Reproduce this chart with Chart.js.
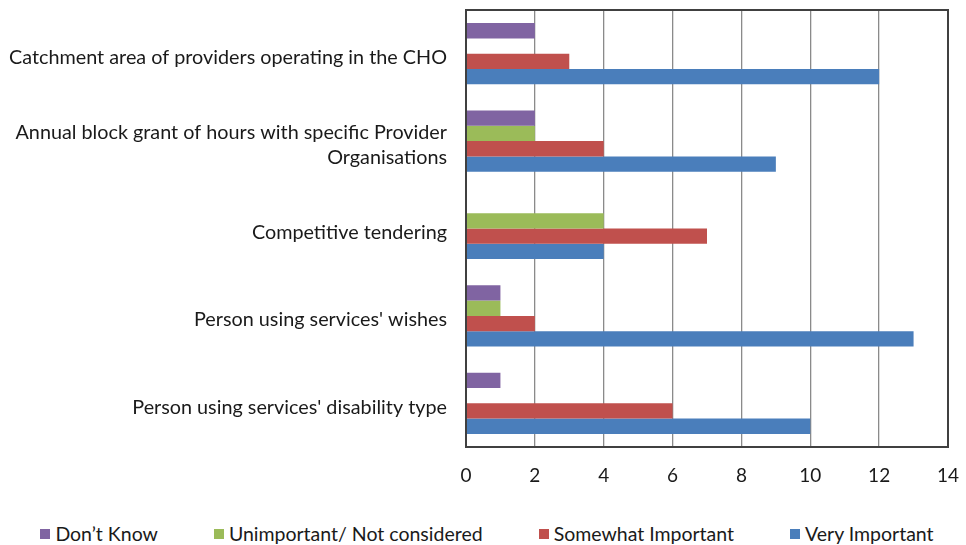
<!DOCTYPE html>
<html>
<head>
<meta charset="utf-8">
<script src="https://cdn.jsdelivr.net/npm/chart.js@4.4.0/dist/chart.umd.min.js"></script>
<style>
  body { margin: 0; background: #fff; }
  #wrap { position: relative; width: 966px; height: 545px; }
  #legend {
    position: absolute; left: 4px; top: 522px; width: 966px;
    display: flex; justify-content: center; gap: 56px;
    font-family: Lato, sans-serif; font-size: 19.5px; color: #1a1a1a;
  }
  #legend span.item { display: flex; align-items: center; }
  #legend span.box { display: inline-block; width: 10px; height: 10px; margin-right: 5px; }
</style>
</head>
<body>
<div id="wrap">
  <canvas id="grafico" width="966" height="510"></canvas>
  <div id="legend"></div>
</div>
<script>
// Categorias (de arriba a abajo)
const categorias = [
    'Catchment area of providers operating in the CHO',
    ['Annual block grant of hours with specific Provider', 'Organisations'],
    'Competitive tendering',
    "Person using services' wishes",
    "Person using services' disability type"
];
const noSabe = [2, 2, 0, 1, 1];
const sinImportancia = [0, 2, 4, 1, 0];
const algoImportante = [3, 4, 7, 2, 6];
const muyImportante = [12, 9, 4, 13, 10];
const ticksX = [0, 2, 4, 6, 8, 10, 12, 14];

const fuente = 'Lato, sans-serif';

// Borde del area del grafico
const bordePlot = {
    id: 'bordePlot',
    afterDraw(chart) {
        const a = chart.chartArea;
        const ctx = chart.ctx;
        ctx.save();
        ctx.strokeStyle = '#404040';
        ctx.lineWidth = 2;
        ctx.strokeRect(a.left, a.top, a.right - a.left, a.bottom - a.top);
        ctx.restore();
    }
};

const ctx = document.getElementById('grafico').getContext('2d');
const grafico = new Chart(ctx, {
    type: 'bar',
    data: {
        labels: categorias,
        datasets: [
            { label: 'Don\u2019t Know', data: noSabe, backgroundColor: '#8064A2' },
            { label: 'Unimportant/ Not considered', data: sinImportancia, backgroundColor: '#9BBB59' },
            { label: 'Somewhat Important', data: algoImportante, backgroundColor: '#C0504D' },
            { label: 'Very Important', data: muyImportante, backgroundColor: '#4A7EBB' }
        ]
    },
    options: {
        indexAxis: 'y',
        responsive: false,
        animation: false,
        layout: { padding: { top: 10, right: 18, left: 0, bottom: 0 } },
        datasets: { bar: { categoryPercentage: 0.7, barPercentage: 1.0, borderWidth: 0 } },
        plugins: {
            legend: { display: false },
            tooltip: { enabled: false }
        },
        scales: {
            x: {
                min: 0,
                max: 14,
                afterBuildTicks: (s) => { s.ticks = ticksX.map(v => ({ value: v })); },
                afterFit: (s) => { s.height = 63; s.paddingLeft = 0; s.paddingRight = 0; },
                grid: { color: '#8a8a8a', lineWidth: 1.3, drawTicks: false },
                border: { display: false },
                ticks: { padding: 17, color: '#1a1a1a', font: { family: fuente, size: 19 } }
            },
            y: {
                afterFit: (s) => { s.width = 466; s.paddingTop = 0; s.paddingBottom = 0; },
                grid: { display: false, drawTicks: false },
                border: { display: false },
                ticks: { padding: 19, labelOffset: 4, color: '#1a1a1a', font: { family: fuente, size: 19.8, lineHeight: 1.28 } }
            }
        }
    },
    plugins: [bordePlot]
});

// Leyenda en HTML
const leyenda = document.getElementById('legend');
grafico.data.datasets.forEach(ds => {
    const item = document.createElement('span');
    item.className = 'item';
    const caja = document.createElement('span');
    caja.className = 'box';
    caja.style.background = ds.backgroundColor;
    item.appendChild(caja);
    item.appendChild(document.createTextNode(ds.label));
    leyenda.appendChild(item);
});
</script>
</body>
</html>
